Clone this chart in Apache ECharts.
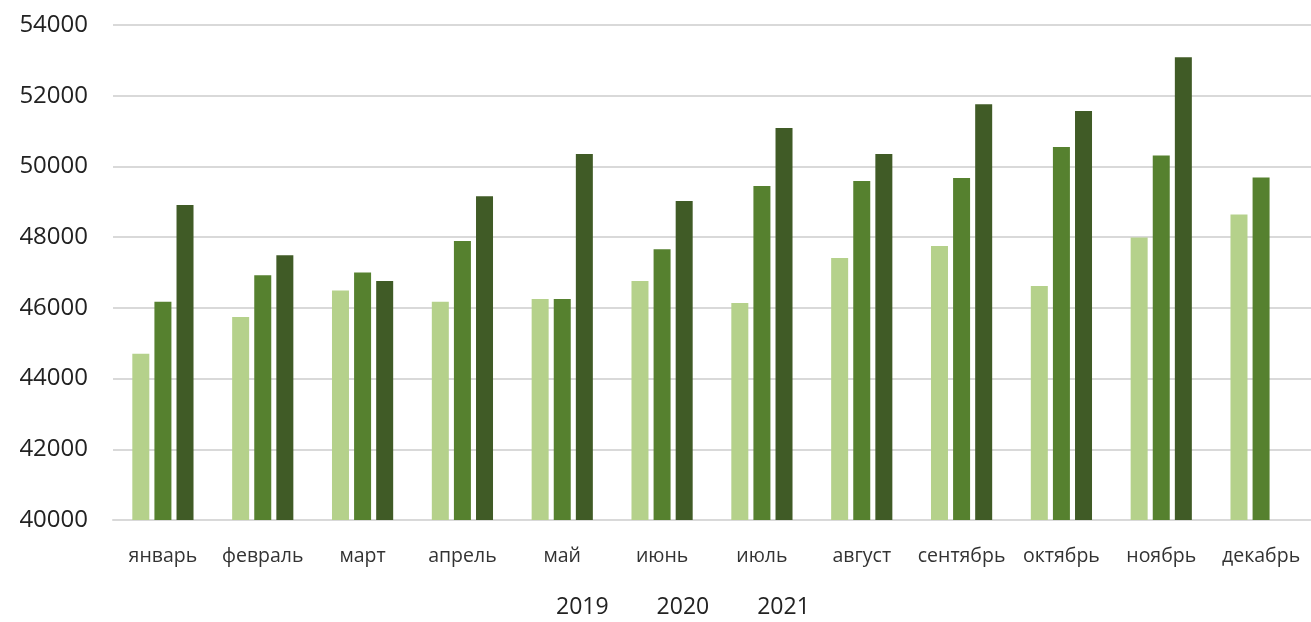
<!DOCTYPE html>
<html><head><meta charset="utf-8">
<script src="https://cdn.jsdelivr.net/npm/echarts@6/dist/echarts.min.js"></script>
<style>html,body{margin:0;padding:0;background:#fff}#c{width:1311px;height:622px}</style>
</head><body><div id="c"></div>
<script>
const months = ['январь','февраль','март','апрель','май','июнь','июль','август','сентябрь','октябрь','ноябрь','декабрь'];
const years = ['2019','2020','2021'];
const v2019 = [44700,45740,46490,46170,46250,46760,46140,47410,47750,46620,47990,48640];
const v2020 = [46170,46920,47000,47890,46250,47660,49450,49590,49670,50550,50310,49690];
const v2021 = [48910,47490,46760,49160,50350,49020,51090,50350,51760,51570,53090,null];
const colors = ['#b5d18b','#56812f','#405b26'];
const yTicks = {min:40000, max:54000, step:2000};

const chart = echarts.init(document.getElementById('c'));
const font = '"Open Sans", Lato, sans-serif';
chart.setOption({
  animation:false,
  textStyle:{fontFamily:font},
  grid:{left:113,right:0,top:25,bottom:102},
  legend:{top:596,left:551,padding:0,data:years,itemWidth:0,itemHeight:0,itemGap:43,
    textStyle:{fontSize:23,color:'#222',fontFamily:font},icon:'rect'},
  xAxis:{type:'category',data:months,
    axisLine:{lineStyle:{color:'#d9d9d9',width:2}},axisTick:{show:false},
    axisLabel:{fontSize:19.5,color:'#333',margin:26,interval:0,fontFamily:font}},
  yAxis:{type:'value',min:yTicks.min,max:yTicks.max,interval:yTicks.step,
    axisLine:{show:false},axisTick:{show:false},
    splitLine:{lineStyle:{color:'#d9d9d9',width:2}},
    axisLabel:{fontSize:24,color:'#222',margin:25,fontFamily:font,formatter:v=>String(v)}},
  series:[
    {name:years[0],type:'bar',data:v2019,itemStyle:{color:colors[0]},barWidth:17,barGap:'30%'},
    {name:years[1],type:'bar',data:v2020,itemStyle:{color:colors[1]},barWidth:17,barGap:'30%'},
    {name:years[2],type:'bar',data:v2021,itemStyle:{color:colors[2]},barWidth:17,barGap:'30%'}
  ]
});
</script></body></html>
